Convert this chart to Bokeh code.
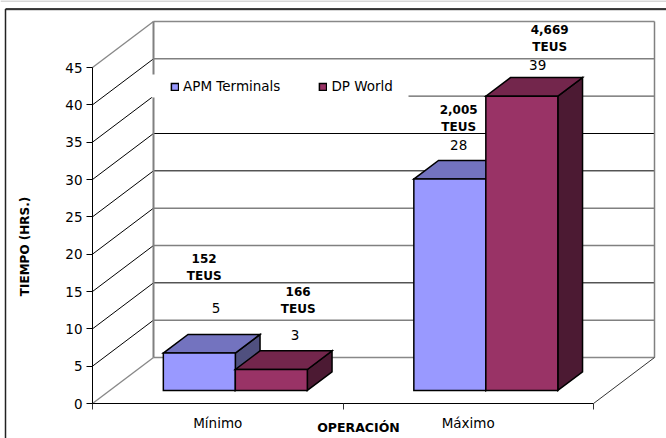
from bokeh.plotting import figure
from bokeh.embed import file_html
from bokeh.resources import INLINE
from bokeh.models import (ColumnDataSource, FixedTicker, Label, Legend, LegendItem, Range1d)

# ---- data ----
categories = ["Mínimo", "Máximo"]
apm_values = [5.0, 28.3]
dp_values = [2.8, 39.4]
apm_value_labels = ["5", "28"]
dp_value_labels = ["3", "39"]
apm_teus = ["152", "2,005"]
dp_teus = ["166", "4,669"]
y_ticks = [0, 5, 10, 15, 20, 25, 30, 35, 40, 45]
series_names = ["APM Terminals", "DP World"]

# ---- layout ----
W, H = 666, 438
AX_L, AX_R, AX_B = 92, 593, 403
PX_PER_CAT = (AX_R - AX_L) / len(categories)
PX_PER_VAL = (403 - 67) / 45
DEPTH_X, DEPTH_Y = 61, 46
BAR_W = 72 / PX_PER_CAT
Z0, Z1 = 0.285, 0.69

def dx(z):
    return z * DEPTH_X / PX_PER_CAT

def dy(z):
    return z * DEPTH_Y / PX_PER_VAL

def px_x(px):
    return (px - AX_L) / PX_PER_CAT

def px_y(py):
    return (AX_B - py) / PX_PER_VAL

p = figure(width=W, height=H, output_backend="svg", toolbar_location=None,
           x_range=Range1d(px_x(0), px_x(W)), y_range=Range1d(px_y(H), px_y(0)),
           min_border=0, outline_line_color=None, background_fill_color="white",
           border_fill_color="white")
p.styles = {"position": "absolute", "left": "0px", "top": "0px"}
p.grid.visible = False

FONT = "DejaVu Sans"

# page rules / chart border
p.segment([px_x(0)], [px_y(0.5)], [px_x(W)], [px_y(0.5)], line_color="#b0b0b0", line_width=1)
p.segment([px_x(5)], [px_y(9.5)], [px_x(W)], [px_y(9.5)], line_color="#b0b0b0", line_width=1)
p.segment([px_x(5)], [px_y(8.5)], [px_x(W)], [px_y(8.5)], line_color="black", line_width=1.5)
p.segment([px_x(5)], [px_y(8.5)], [px_x(5)], [px_y(H)], line_color="#222222", line_width=1.5)

# walls and floor
xend = len(categories)
wall_color = {0: "#888888", 5: "#808080", 10: "black", 15: "#808080", 20: "#808080", 25: "black",
              30: "black", 35: "#606060", 40: "#808080", 45: "#888888"}
wall_width = {0: 1.5, 5: 1.5, 10: 1, 15: 1.5, 20: 1.5, 25: 1, 30: 1, 35: 1.2, 40: 1.5, 45: 1.5}
for v in y_ticks:
    side_col = "#888888" if v in (0, 45) else "black"
    p.line([0, dx(1)], [v, v + dy(1)], line_color=side_col, line_width=1.4 if v in (0, 45) else 1)
    p.line([dx(1), xend + dx(1)], [v + dy(1), v + dy(1)], line_color=wall_color[v], line_width=wall_width[v])
p.line([dx(1), dx(1)], [dy(1), 45 + dy(1)], line_color="#808080", line_width=2)
p.line([xend + dx(1), xend + dx(1)], [dy(1), 45 + dy(1)], line_color="#808080", line_width=1.5)
p.line([xend, xend + dx(1)], [0, dy(1)], line_color="#333333", line_width=1)

# white area behind the legend
p.quad(left=[px_x(151)], right=[px_x(408)], bottom=[px_y(97)], top=[px_y(74)],
       fill_color="white", line_color=None)

# bars
def faces(vals, off):
    front_x, front_y, top_x, top_y, side_x, side_y = [], [], [], [], [], []
    for i, v in enumerate(vals):
        l = i + 0.5 + off + 0.2 / PX_PER_CAT
        r = l + BAR_W
        front_x.append([l + dx(Z0), r + dx(Z0), r + dx(Z0), l + dx(Z0)])
        front_y.append([dy(Z0), dy(Z0), v + dy(Z0), v + dy(Z0)])
        top_x.append([l + dx(Z0), r + dx(Z0), r + dx(Z1), l + dx(Z1)])
        top_y.append([v + dy(Z0), v + dy(Z0), v + dy(Z1), v + dy(Z1)])
        side_x.append([r + dx(Z0), r + dx(Z1), r + dx(Z1), r + dx(Z0)])
        side_y.append([dy(Z0), dy(Z1), v + dy(Z1), v + dy(Z0)])
    return front_x, front_y, top_x, top_y, side_x, side_y

renderers = []
styles = [("#9999FF", "#7373BF", "#50507F"), ("#993366", "#73264C", "#4C1A33")]
for vals, off, (cf, ct, cs) in zip([apm_values, dp_values], [-BAR_W, 0], styles):
    fx, fy, tx, ty, sx, sy = faces(vals, off)
    p.patches(sx, sy, fill_color=cs, line_color="black", line_width=1.5, line_join="miter")
    p.patches(tx, ty, fill_color=ct, line_color="black", line_width=1.5, line_join="miter")
    renderers.append(p.patches(fx, fy, fill_color=cf, line_color="black", line_width=1.5, line_join="miter"))

# data labels
def add_labels(vals, value_labels, teus, off, vx, vy, tx, ty):
    n = len(vals)
    xs = [i + 0.5 + off + BAR_W / 2 + dx(Z0) for i in range(n)]
    src = ColumnDataSource(dict(x=xs, y=[v + dy(Z0) for v in vals], val=value_labels, teus=teus,
                                unit=["TEUS"] * n, vx=vx, vy=vy, tx=tx, ty=ty,
                                ty2=[t + 18 for t in ty]))
    p.text("x", "y", text="val", source=src, x_offset="vx", y_offset="vy", text_font_size="13.5px",
           text_font={"value": FONT}, text_align="center", text_baseline="middle", text_color="black")
    p.text("x", "y", text="teus", source=src, x_offset="tx", y_offset="ty", text_font_size="12px",
           text_font={"value": FONT}, text_font_style="bold", text_align="center", text_baseline="middle",
           text_color="black")
    p.text("x", "y", text="unit", source=src, x_offset="tx", y_offset="ty2", text_font_size="12px",
           text_font={"value": FONT}, text_font_style="bold", text_align="center", text_baseline="middle",
           text_color="black")

add_labels(apm_values, apm_value_labels, apm_teus, -BAR_W, [17, 9], [-45, -34], [5, 9], [-95, -70])
add_labels(dp_values, dp_value_labels, dp_teus, 0, [24, 16], [-34, -31], [27, 28], [-78, -67])

# axes
yax = p.yaxis[0]
yax.fixed_location = 0
yax.bounds = (0, 45)
yax.ticker = FixedTicker(ticks=y_ticks)
yax.major_tick_in = 0
yax.major_tick_out = 6
yax.minor_tick_line_color = None
yax.major_label_standoff = 4
yax.major_label_text_font = FONT
yax.major_label_text_font_size = "13.5px"
yax.major_label_text_color = "black"
yax.axis_line_color = "black"
yax.major_tick_line_color = "black"

xax = p.xaxis[0]
xax.fixed_location = 0
xax.bounds = (0, xend)
centers = [i + 0.5 for i in range(len(categories))]
xax.ticker = FixedTicker(ticks=centers, minor_ticks=list(range(xend + 1)))
xax.major_label_overrides = {c: n for c, n in zip(centers, categories)}
xax.major_tick_line_color = None
xax.major_tick_in = 0
xax.major_tick_out = 0
xax.minor_tick_in = 0
xax.minor_tick_out = 6
xax.minor_tick_line_color = "#333333"
xax.major_label_standoff = 5
xax.major_label_text_font = FONT
xax.major_label_text_font_size = "13.5px"
xax.major_label_text_color = "black"
xax.axis_line_color = "black"

# axis titles
p.add_layout(Label(x=358, y=H - 427, x_units="screen", y_units="screen", text="OPERACIÓN",
                   text_font=FONT, text_font_size="12.5px", text_font_style="bold",
                   text_align="center", text_baseline="middle", text_color="black"))
p.add_layout(Label(x=24, y=H - 246, x_units="screen", y_units="screen", text="TIEMPO (HRS.)", angle=90,
                   angle_units="deg", text_font=FONT, text_font_size="12px", text_font_style="bold",
                   text_align="center", text_baseline="middle", text_color="black"))

# legend
legend = Legend(items=[LegendItem(label=n, renderers=[r]) for n, r in zip(series_names, renderers)],
                orientation="horizontal", location=(170, H - 94), background_fill_alpha=0,
                border_line_color=None, glyph_width=9, glyph_height=9, label_standoff=4, spacing=38,
                padding=4, margin=0, label_text_font=FONT, label_text_font_size="13.5px",
                label_text_color="black", label_height=9)
p.add_layout(legend)

open("out.html", "w").write(file_html(p, INLINE))
